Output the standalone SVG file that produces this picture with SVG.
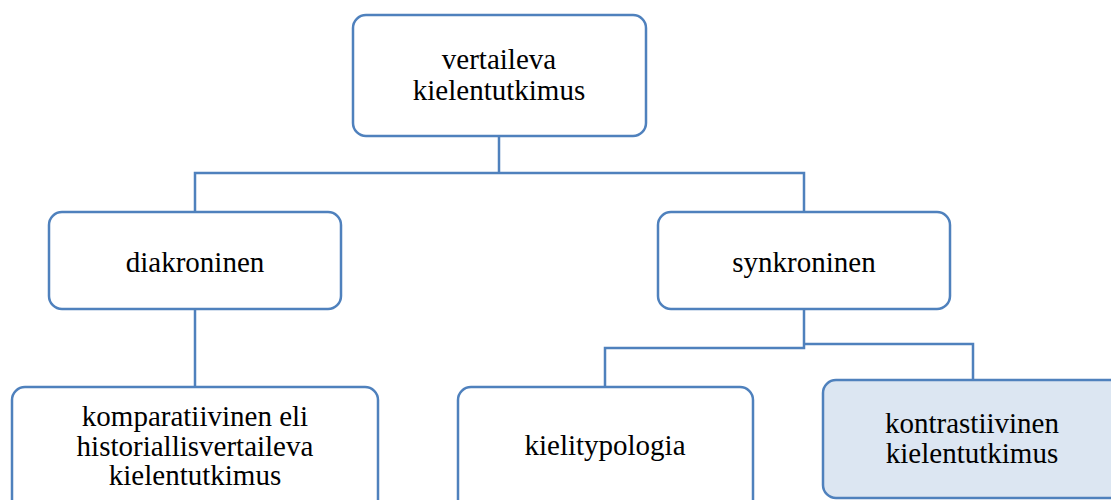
<svg xmlns="http://www.w3.org/2000/svg" width="1111" height="500" viewBox="0 0 1111 500">
<style>
.box{fill:#ffffff;stroke:#4f81bd;stroke-width:2.5}
.hl{fill:#dce6f2}
.lbl{font-family:'Liberation Serif','Times New Roman',Tinos,'DejaVu Serif',serif;font-size:29px;fill:#000;text-anchor:middle}
.conn{fill:none;stroke:#4f81bd;stroke-width:2.5}
</style>
<rect width="1111" height="500" fill="#ffffff"/>
<g id="connectors">
<path class="conn" d="M499,136 V173 M195,212 V173 H804 V212"/>
<path class="conn" d="M195,309 V387"/>
<path class="conn" d="M804,309 V348 H605 V387 M804,309 V344 H973 V380"/>
</g>
<g id="node-root">
<rect class="box" x="353" y="15" width="293" height="121" rx="13"/>
<text class="lbl" x="499" y="69">vertaileva</text>
<text class="lbl" x="499" y="100">kielentutkimus</text>
</g>
<g id="node-diakroninen">
<rect class="box" x="49" y="212" width="292" height="97" rx="13"/>
<text class="lbl" x="195" y="272">diakroninen</text>
</g>
<g id="node-synkroninen">
<rect class="box" x="658" y="212" width="292" height="97" rx="13"/>
<text class="lbl" x="804" y="272">synkroninen</text>
</g>
<g id="node-komparatiivinen">
<rect class="box" x="12" y="387" width="366" height="130" rx="13"/>
<text class="lbl" x="195" y="426">komparatiivinen eli</text>
<text class="lbl" x="195" y="456">historiallisvertaileva</text>
<text class="lbl" x="195" y="485">kielentutkimus</text>
</g>
<g id="node-kielitypologia">
<rect class="box" x="458" y="387" width="295" height="130" rx="13"/>
<text class="lbl" x="605" y="455">kielitypologia</text>
</g>
<g id="node-kontrastiivinen">
<rect class="box hl" x="823" y="380" width="310" height="118" rx="13"/>
<text class="lbl" x="972" y="433">kontrastiivinen</text>
<text class="lbl" x="972" y="463">kielentutkimus</text>
</g>
</svg>
